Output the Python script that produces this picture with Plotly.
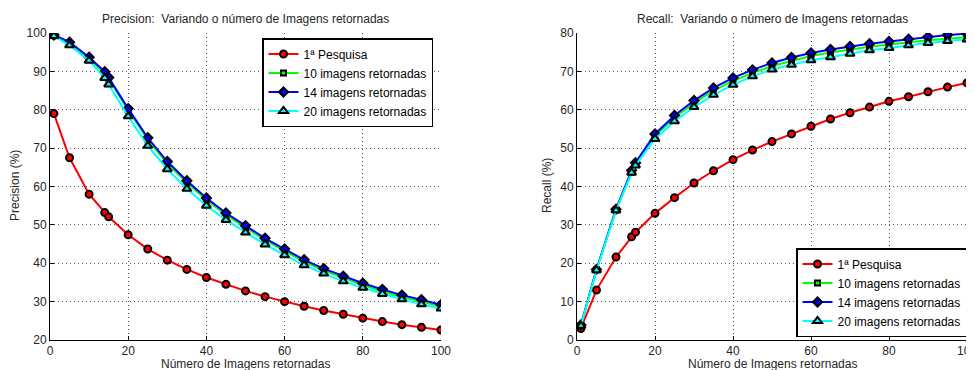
import plotly.graph_objects as go

# The page body adds an 8px margin; the figure is drawn in reference pixel
# coordinates shifted by that offset.
OFF = 8
FW, FH = 974, 370


def px(x):
    return (x - OFF) / FW


def py(y):
    return 1 - (y - OFF) / FH


x_vals = [1, 5, 10, 14, 15, 20, 25, 30, 35, 40, 45, 50, 55, 60, 65, 70, 75, 80, 85, 90, 95, 100]

series_names = ["1ª Pesquisa", "10 imagens retornadas", "14 imagens retornadas", "20 imagens retornadas"]

prec_pesquisa = [79.0, 67.5, 58.0, 53.2, 52.1, 47.4, 43.7, 40.8, 38.4, 36.3, 34.5, 32.8, 31.3, 30.0, 28.8, 27.7, 26.7, 25.7, 24.8, 24.0, 23.3, 22.6]
prec_10 = [99.3, 97.2, 93.3, 89.5, 88.0, 79.9, 72.2, 66.0, 61.0, 56.5, 52.6, 49.3, 46.0, 43.2, 40.4, 38.1, 36.1, 34.3, 32.7, 31.2, 30.0, 28.7]
prec_14 = [99.5, 97.6, 93.7, 89.9, 88.4, 80.3, 72.7, 66.5, 61.5, 57.0, 53.1, 49.8, 46.5, 43.7, 40.9, 38.6, 36.6, 34.8, 33.2, 31.7, 30.5, 29.2]
prec_20 = [99.2, 96.8, 92.8, 88.3, 86.6, 78.3, 70.6, 64.5, 59.4, 55.0, 51.3, 48.0, 44.9, 42.1, 39.5, 37.3, 35.3, 33.6, 32.0, 30.6, 29.3, 28.2]

rec_pesquisa = [3.0, 13.0, 21.6, 26.9, 28.1, 33.0, 37.1, 40.9, 44.1, 47.0, 49.5, 51.7, 53.7, 55.7, 57.6, 59.2, 60.7, 62.2, 63.4, 64.7, 65.9, 67.0]
rec_10 = [3.8, 18.3, 33.9, 43.8, 45.8, 53.2, 57.9, 61.8, 65.0, 67.5, 69.6, 71.4, 72.8, 74.0, 74.9, 75.7, 76.4, 77.0, 77.6, 78.1, 78.5, 78.9]
rec_14 = [3.9, 18.4, 34.1, 44.2, 46.2, 53.7, 58.5, 62.4, 65.7, 68.3, 70.4, 72.2, 73.6, 74.8, 75.7, 76.5, 77.2, 77.8, 78.4, 79.0, 79.5, 79.8]
rec_20 = [3.7, 18.2, 33.8, 43.6, 45.5, 52.4, 57.0, 60.7, 63.9, 66.5, 68.7, 70.5, 71.7, 72.9, 73.7, 74.6, 75.5, 76.1, 76.8, 77.4, 77.9, 78.3]

colors = ["#ff0000", "#00ff00", "#0000ff", "#00ffff"]
symbols = ["circle", "square", "diamond", "triangle-up"]
msizes = [7, 5, 7, 8]

FONT = "Liberation Sans, Arial, sans-serif"
TXT = "#262626"

fig = go.Figure()

prec = [prec_pesquisa, prec_10, prec_14, prec_20]
rec = [rec_pesquisa, rec_10, rec_14, rec_20]

for i in range(4):
    fig.add_trace(go.Scatter(
        x=x_vals, y=prec[i], name=series_names[i], mode="lines+markers",
        line=dict(color=colors[i], width=2),
        marker=dict(symbol=symbols[i], size=msizes[i], color=colors[i],
                    line=dict(color="black", width=2)),
        xaxis="x", yaxis="y", legend="legend"))
for i in range(4):
    fig.add_trace(go.Scatter(
        x=x_vals, y=rec[i], name=series_names[i], mode="lines+markers",
        line=dict(color=colors[i], width=2),
        marker=dict(symbol=symbols[i], size=msizes[i], color=colors[i],
                    line=dict(color="black", width=2)),
        xaxis="x2", yaxis="y2", legend="legend2"))

y_dom = [py(340), py(33)]
axis_common = dict(
    showline=True, linecolor="black", linewidth=1,
    ticks="inside", ticklen=4, tickcolor="black",
    showgrid=True, gridcolor="#555555", griddash="1px,3px", gridwidth=1,
    zeroline=False, automargin=False,
    tickfont=dict(family=FONT, size=12, color=TXT),
)

fig.update_layout(
    width=FW, height=FH,
    margin=dict(l=0, r=0, t=0, b=0, pad=0, autoexpand=False),
    paper_bgcolor="white", plot_bgcolor="white",
    font=dict(family=FONT, size=12, color=TXT),
    xaxis=dict(domain=[px(50), px(441)], range=[0, 100], dtick=20, anchor="y", **axis_common),
    yaxis=dict(domain=y_dom, range=[20, 100], dtick=10, anchor="x", **axis_common),
    xaxis2=dict(domain=[px(577), px(967)], range=[0, 100], dtick=20, anchor="y2", **axis_common),
    yaxis2=dict(domain=y_dom, range=[0, 80], dtick=10, anchor="x2", **axis_common),
    legend=dict(x=px(433), y=py(38), xanchor="right", yanchor="top",
                bgcolor="white", bordercolor="black", borderwidth=1.5,
                font=dict(family=FONT, size=12, color="black"),
                tracegroupgap=0, itemwidth=30),
    legend2=dict(x=px(967), y=py(337), xanchor="right", yanchor="bottom",
                 bgcolor="white", bordercolor="black", borderwidth=1.5,
                 font=dict(family=FONT, size=12, color="black"),
                 tracegroupgap=0, itemwidth=30),
    showlegend=True,
)

ann = [
    dict(text="Precision:  Variando o número de Imagens retornadas", x=px((50 + 441) / 2), y=py(19)),
    dict(text="Recall:  Variando o número de Imagens retornadas", x=px((577 + 967) / 2), y=py(19)),
    dict(text="Número de Imagens retornadas", x=px((50 + 441) / 2), y=py(364)),
    dict(text="Número de Imagens retornadas", x=px((577 + 967) / 2), y=py(364)),
]
for a in ann:
    fig.add_annotation(xref="paper", yref="paper", showarrow=False,
                       xanchor="center", yanchor="middle",
                       font=dict(family=FONT, size=12, color=TXT), **a)
fig.add_annotation(text="Precision (%)", xref="paper", yref="paper", x=px(15), y=py(186),
                   textangle=-90, showarrow=False, xanchor="center", yanchor="middle",
                   font=dict(family=FONT, size=12, color=TXT))
fig.add_annotation(text="Recall (%)", xref="paper", yref="paper", x=px(547), y=py(186),
                   textangle=-90, showarrow=False, xanchor="center", yanchor="middle",
                   font=dict(family=FONT, size=12, color=TXT))

fig.write_html("out.html")
